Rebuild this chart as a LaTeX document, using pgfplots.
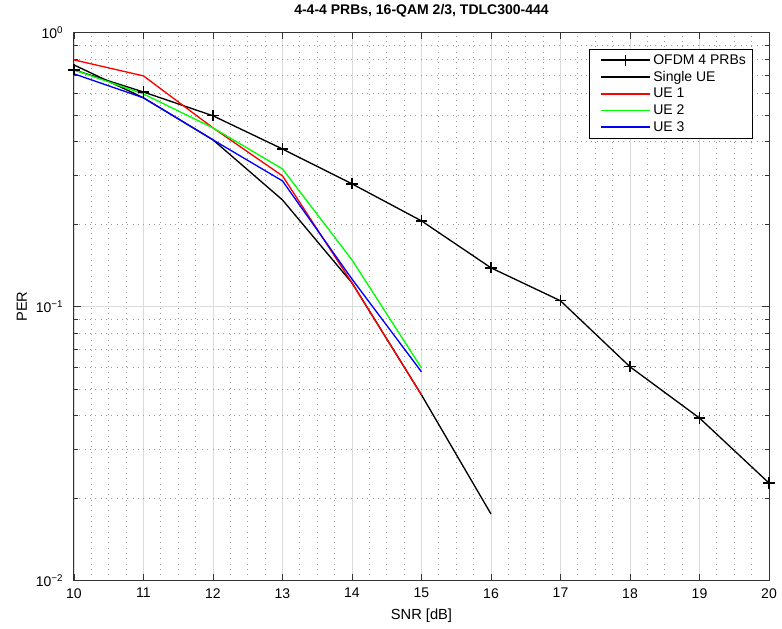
\documentclass[border=0pt]{standalone}
\usepackage{pgfplots}
\pgfplotsset{compat=1.18}
\usepackage{fontspec}
\setmainfont{Liberation Sans}
\definecolor{ured}{RGB}{255,0,0}
\definecolor{ugreen}{RGB}{0,255,0}
\definecolor{ublue}{RGB}{0,0,255}
\begin{document}
\begin{tikzpicture}
\begin{axis}[
  name=ax,
  scale only axis,
  width=521.25pt, height=411pt,
  xmin=10, xmax=20, ymode=log, ymin=0.01, ymax=1,
  xtick={10,11,...,20},
  minor x tick num=3,
  ytick={0.01,0.1,1},
  yticklabels={10\textsuperscript{−2},10\textsuperscript{−1},10\textsuperscript{0}},
  /pgf/number format/assume math mode=true,
  tick label style={font=\fontsize{10.5}{12}\selectfont},
  xticklabel style={yshift=-2.2pt},
  yticklabel style={xshift=-4.5pt},
  grid=both,
  major grid style={draw=black!14, line width=0.7pt},
  minor grid style={draw=black!40, dash pattern=on 0.6pt off 3.4pt, line width=0.6pt},
  minor x tick style={draw=none},
  tick align=inside,
  major tick length=5pt,
  minor tick length=3pt,
  axis line style={draw=black!80, line width=0.75pt},
  tick style={draw=black!80, line width=0.6pt},
  title={\bfseries 4-4-4 PRBs, 16-QAM 2/3, TDLC300-444},
  title style={font=\fontsize{10.5}{12}\selectfont, at={(axis description cs:0.5,1)}, anchor=base, yshift=7.5pt},
  xlabel={SNR [dB]}, ylabel={PER},
  label style={font=\fontsize{11}{13}\selectfont},
  xlabel style={at={(axis description cs:0.5,0)}, anchor=base, yshift=-29.25pt},
  ylabel style={at={([xshift=-35.25pt]axis description cs:0,0.5)}, anchor=base},
  legend style={at={(rel axis cs:1,1)}, anchor=north east, xshift=-12pt, yshift=-12pt,
    font=\fontsize{10.5}{12}\selectfont, row sep=-0.3pt, line width=0.7pt,
    cells={anchor=west}},
  legend image code/.code={\path (-5pt,0pt); \draw[mark repeat=2, mark phase=2, #1, line width=1.3pt] plot coordinates {(0pt,0pt)(18.4pt,0pt)(36.8pt,0pt)};},
]
\addplot[color=black, line width=1.0pt, mark=+, mark size=4.2pt, mark options={line width=1.0pt}] coordinates {
(10,0.731)(11,0.607)(12,0.497)(13,0.376)(14,0.2805)(15,0.2055)(16,0.1385)(17,0.105)(18,0.0603)(19,0.0392)(20,0.0227)};
\addlegendentry{OFDM 4 PRBs}
\addplot[color=black, line width=1.0pt] coordinates {
(10,0.762)(11,0.578)(12,0.406)(13,0.245)(14,0.122)(15,0.0476)(16,0.0175)};
\addlegendentry{Single UE}
\addplot[color=ured, line width=1.0pt] coordinates {
(10,0.795)(11,0.695)(12,0.449)(13,0.300)(14,0.122)(15,0.0476)};
\addlegendentry{UE 1}
\addplot[color=ugreen, line width=1.0pt] coordinates {
(10,0.731)(11,0.597)(12,0.449)(13,0.318)(14,0.148)(15,0.0597)};
\addlegendentry{UE 2}
\addplot[color=ublue, line width=1.0pt] coordinates {
(10,0.707)(11,0.578)(12,0.406)(13,0.2875)(14,0.126)(15,0.0578)};
\addlegendentry{UE 3}
\end{axis}
\path ([shift={(-55.5pt,-36pt)}]ax.south west) rectangle ([shift={(9.75pt,23.8pt)}]ax.north east);
\end{tikzpicture}
\end{document}
